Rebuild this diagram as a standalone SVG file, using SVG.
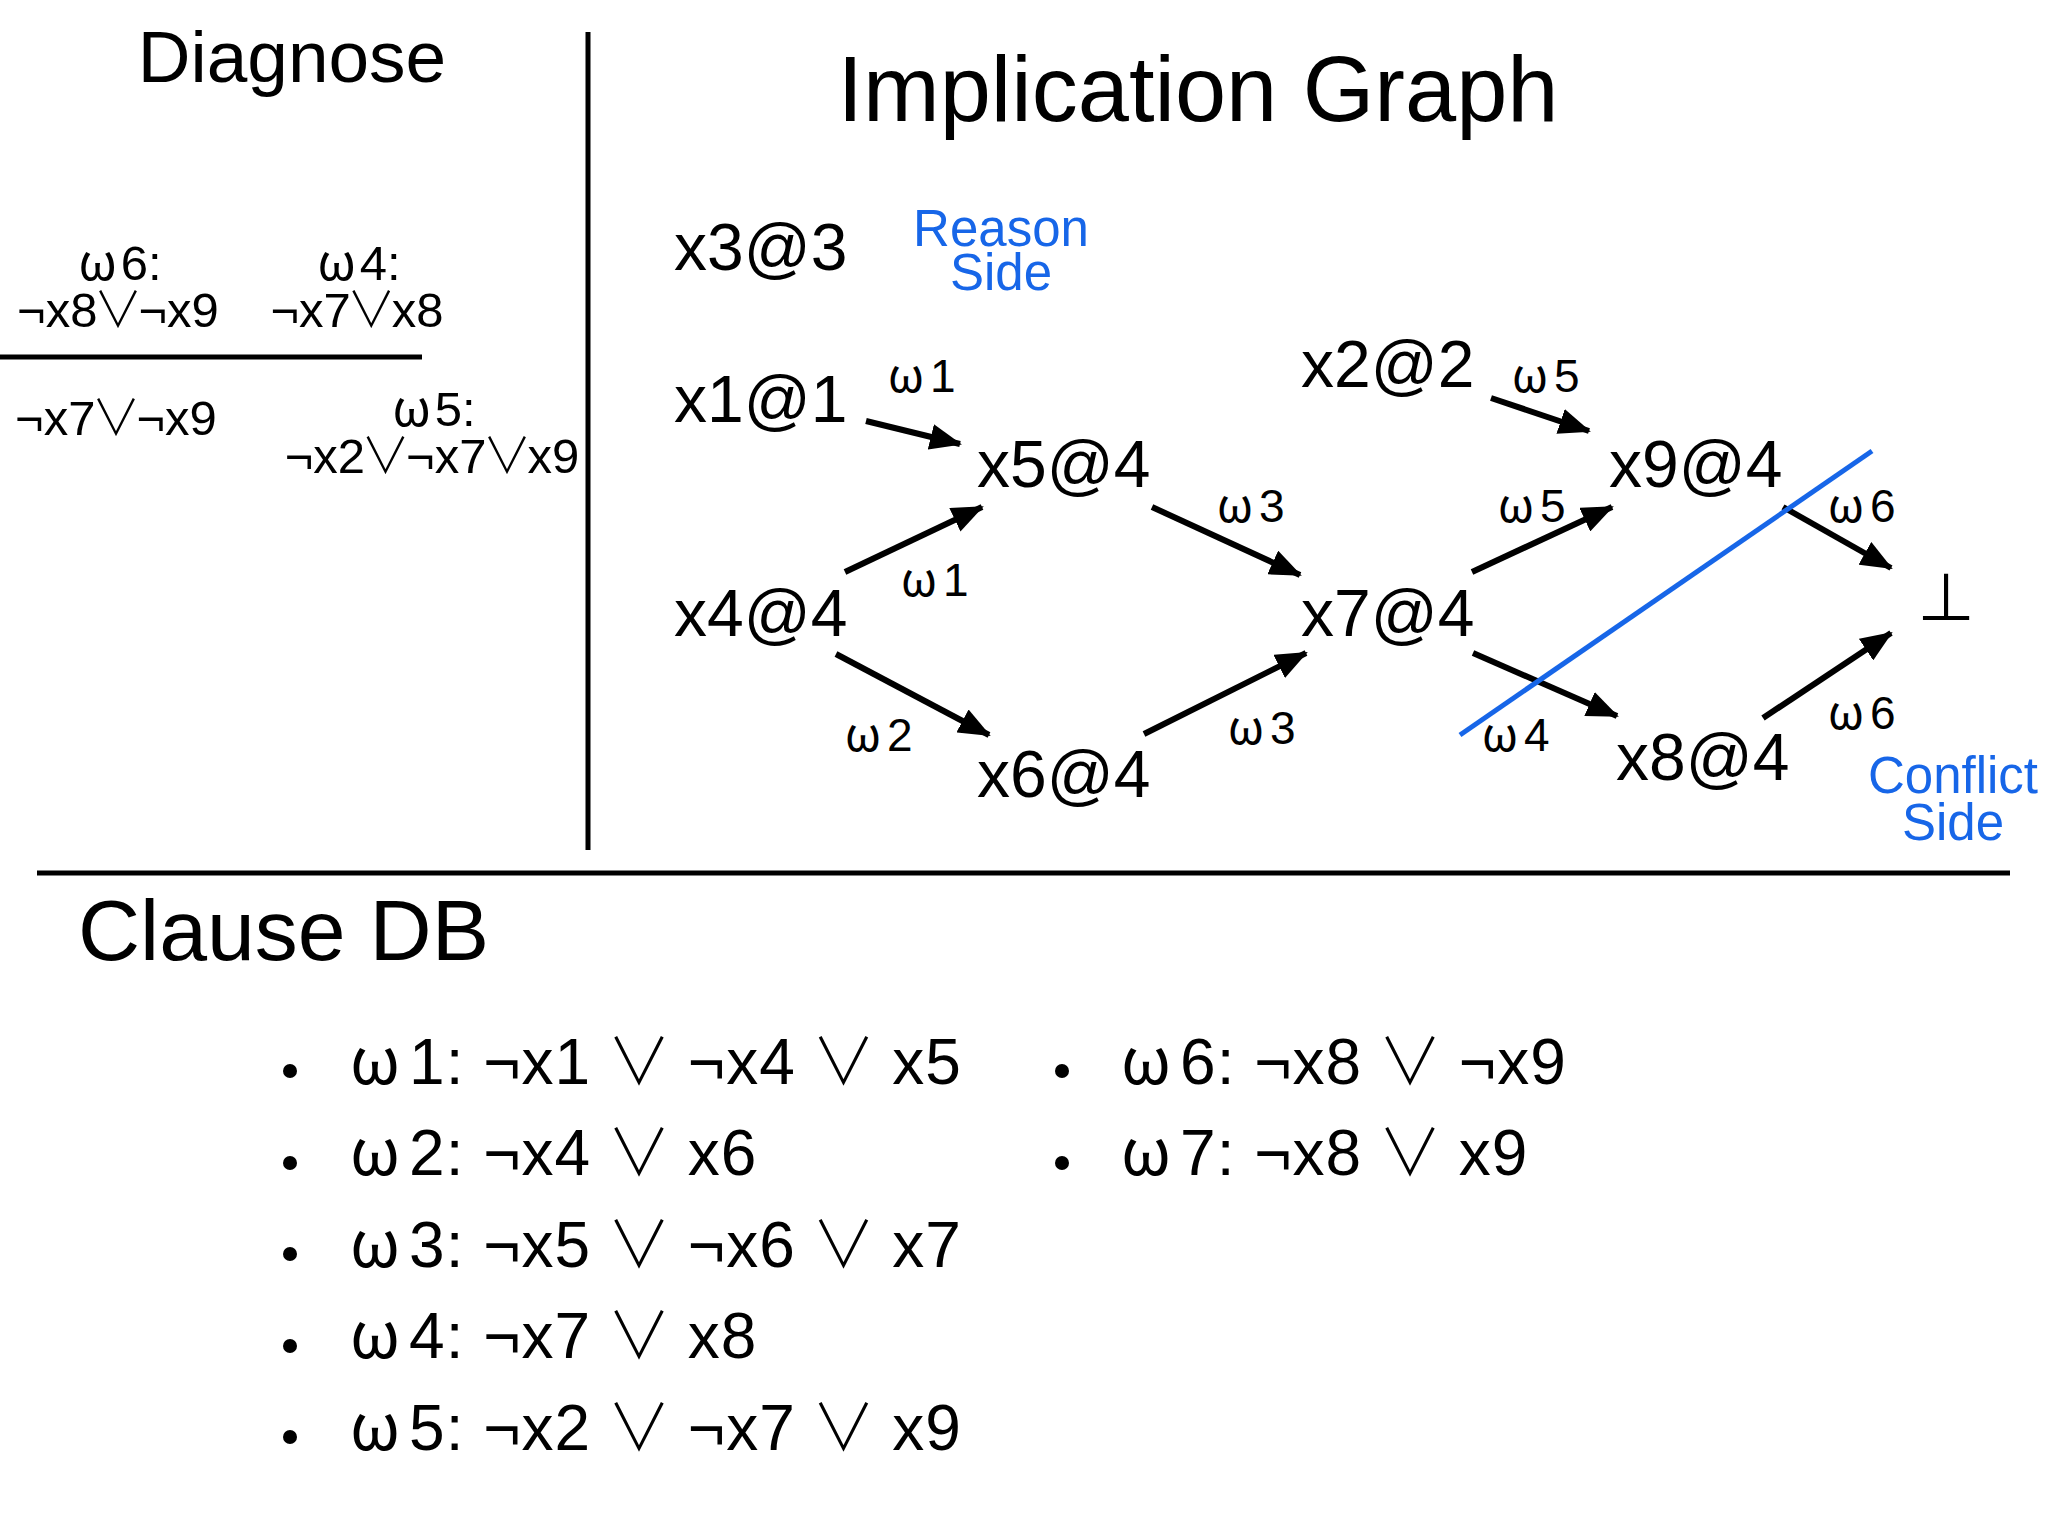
<svg xmlns="http://www.w3.org/2000/svg" width="2048" height="1536" viewBox="0 0 2048 1536">
<defs>
<style>
text{font-family:"Liberation Sans","DejaVu Sans",sans-serif;fill:#000}
.w{font-family:"Noto Sans CJK JP","DejaVu Sans",sans-serif}
.v{font-family:"Noto Sans CJK JP","DejaVu Sans",sans-serif;font-weight:300}
.title{font-size:73px}
.big{font-size:92px}
.node{font-size:66px}
.lbl{font-size:46px}
.dg{font-size:49px}
.blue{fill:#1766e8;font-size:51px}
.db{font-size:64px;letter-spacing:1px}
.rule{stroke:#000;stroke-width:5;fill:none}
.edge{stroke:#000;stroke-width:6;fill:none;marker-end:url(#arr)}
</style>
<marker id="arr" markerUnits="userSpaceOnUse" markerWidth="32" markerHeight="26" refX="30" refY="13" orient="auto" viewBox="0 0 32 26">
<path d="M0,0 L32,13 L0,26 z" fill="#000"/>
</marker>
</defs>
<rect width="2048" height="1536" fill="#fff"/>

<g id="frame">
<line class="rule" x1="588" y1="32" x2="588" y2="850"/>
<line class="rule" x1="0" y1="357" x2="422" y2="357"/>
<line class="rule" x1="37" y1="873" x2="2010" y2="873"/>
</g>

<g id="diagnose">
<text class="title" x="292" y="82" text-anchor="middle">Diagnose</text>
<text class="dg" x="120" y="280" text-anchor="middle"><tspan class="w">ω</tspan><tspan dx="4">6:</tspan></text>
<text class="dg" x="118" y="327" text-anchor="middle">¬x8<tspan class="v" dx="-4">∨</tspan><tspan dx="-4">¬x9</tspan></text>
<text class="dg" x="359" y="280" text-anchor="middle"><tspan class="w">ω</tspan><tspan dx="4">4:</tspan></text>
<text class="dg" x="357" y="327" text-anchor="middle">¬x7<tspan class="v" dx="-4">∨</tspan><tspan dx="-4">x8</tspan></text>
<text class="dg" x="116" y="435" text-anchor="middle">¬x7<tspan class="v" dx="-4">∨</tspan><tspan dx="-4">¬x9</tspan></text>
<text class="dg" x="434" y="426" text-anchor="middle"><tspan class="w">ω</tspan><tspan dx="4">5:</tspan></text>
<text class="dg" x="432" y="473" text-anchor="middle">¬x2<tspan class="v" dx="-4">∨</tspan><tspan dx="-4">¬x7</tspan><tspan class="v" dx="-4">∨</tspan><tspan dx="-4">x9</tspan></text>
</g>

<g id="graph-title">
<text class="big" x="1198" y="121" text-anchor="middle">Implication Graph</text>
</g>

<g id="edges">
<line class="edge" x1="866" y1="421" x2="960" y2="444"/>
<line class="edge" x1="845" y1="572" x2="982" y2="507"/>
<line class="edge" x1="836" y1="654" x2="989" y2="735"/>
<line class="edge" x1="1152" y1="507" x2="1300" y2="575"/>
<line class="edge" x1="1144" y1="734" x2="1306" y2="653"/>
<line class="edge" x1="1491" y1="398" x2="1589" y2="431"/>
<line class="edge" x1="1472" y1="572" x2="1612" y2="507"/>
<line class="edge" x1="1473" y1="653" x2="1617" y2="716"/>
<line class="edge" x1="1783" y1="507" x2="1891" y2="568"/>
<line class="edge" x1="1763" y1="718" x2="1891" y2="633"/>
</g>

<g id="edge-labels">
<text class="lbl" x="888" y="392"><tspan class="w">ω</tspan><tspan dx="6">1</tspan></text>
<text class="lbl" x="901" y="596"><tspan class="w">ω</tspan><tspan dx="6">1</tspan></text>
<text class="lbl" x="845" y="751"><tspan class="w">ω</tspan><tspan dx="6">2</tspan></text>
<text class="lbl" x="1217" y="522"><tspan class="w">ω</tspan><tspan dx="6">3</tspan></text>
<text class="lbl" x="1228" y="744"><tspan class="w">ω</tspan><tspan dx="6">3</tspan></text>
<text class="lbl" x="1512" y="392"><tspan class="w">ω</tspan><tspan dx="6">5</tspan></text>
<text class="lbl" x="1498" y="522"><tspan class="w">ω</tspan><tspan dx="6">5</tspan></text>
<text class="lbl" x="1828" y="522"><tspan class="w">ω</tspan><tspan dx="6">6</tspan></text>
<text class="lbl" x="1828" y="729"><tspan class="w">ω</tspan><tspan dx="6">6</tspan></text>
<text class="lbl" x="1482" y="751"><tspan class="w">ω</tspan><tspan dx="6">4</tspan></text>
</g>

<g id="n-x3"><text class="node" x="674" y="270">x3@3</text></g>
<g id="n-x1"><text class="node" x="674" y="422">x1@1</text></g>
<g id="n-x4"><text class="node" x="674" y="636">x4@4</text></g>
<g id="n-x5"><text class="node" x="977" y="487">x5@4</text></g>
<g id="n-x6"><text class="node" x="977" y="797">x6@4</text></g>
<g id="n-x7"><text class="node" x="1301" y="636">x7@4</text></g>
<g id="n-x2"><text class="node" x="1301" y="387">x2@2</text></g>
<g id="n-x9"><text class="node" x="1609" y="487">x9@4</text></g>
<g id="n-x8"><text class="node" x="1616" y="780">x8@4</text></g>
<g id="n-bot"><text class="node" x="1946" y="620" text-anchor="middle">⊥</text></g>

<g id="cut">
<line x1="1460" y1="735" x2="1872" y2="451" stroke="#1766e8" stroke-width="5"/>
<text class="blue" x="1001" y="246" text-anchor="middle">Reason</text>
<text class="blue" x="1001" y="290" text-anchor="middle">Side</text>
<text class="blue" x="1953" y="793" text-anchor="middle">Conflict</text>
<text class="blue" x="1953" y="840" text-anchor="middle">Side</text>
</g>

<g id="clause-db">
<text x="78" y="960" style="font-size:86px">Clause DB</text>
<g fill="#000">
<circle cx="290" cy="1071" r="7"/>
<circle cx="290" cy="1163" r="7"/>
<circle cx="290" cy="1254" r="7"/>
<circle cx="290" cy="1346" r="7"/>
<circle cx="290" cy="1437" r="7"/>
<circle cx="1062" cy="1071" r="7"/>
<circle cx="1062" cy="1163" r="7"/>
</g>
<text class="db" x="350" y="1084"><tspan class="w">ω</tspan><tspan dx="8">1: ¬x1 </tspan><tspan class="v" dx="-3">∨</tspan><tspan dx="-3"> ¬x4 </tspan><tspan class="v" dx="-3">∨</tspan><tspan dx="-3"> x5</tspan></text>
<text class="db" x="350" y="1175"><tspan class="w">ω</tspan><tspan dx="8">2: ¬x4 </tspan><tspan class="v" dx="-3">∨</tspan><tspan dx="-3"> x6</tspan></text>
<text class="db" x="350" y="1267"><tspan class="w">ω</tspan><tspan dx="8">3: ¬x5 </tspan><tspan class="v" dx="-3">∨</tspan><tspan dx="-3"> ¬x6 </tspan><tspan class="v" dx="-3">∨</tspan><tspan dx="-3"> x7</tspan></text>
<text class="db" x="350" y="1358"><tspan class="w">ω</tspan><tspan dx="8">4: ¬x7 </tspan><tspan class="v" dx="-3">∨</tspan><tspan dx="-3"> x8</tspan></text>
<text class="db" x="350" y="1450"><tspan class="w">ω</tspan><tspan dx="8">5: ¬x2 </tspan><tspan class="v" dx="-3">∨</tspan><tspan dx="-3"> ¬x7 </tspan><tspan class="v" dx="-3">∨</tspan><tspan dx="-3"> x9</tspan></text>
<text class="db" x="1121" y="1084"><tspan class="w">ω</tspan><tspan dx="8">6: ¬x8 </tspan><tspan class="v" dx="-3">∨</tspan><tspan dx="-3"> ¬x9</tspan></text>
<text class="db" x="1121" y="1175"><tspan class="w">ω</tspan><tspan dx="8">7: ¬x8 </tspan><tspan class="v" dx="-3">∨</tspan><tspan dx="-3"> x9</tspan></text>
</g>
</svg>
